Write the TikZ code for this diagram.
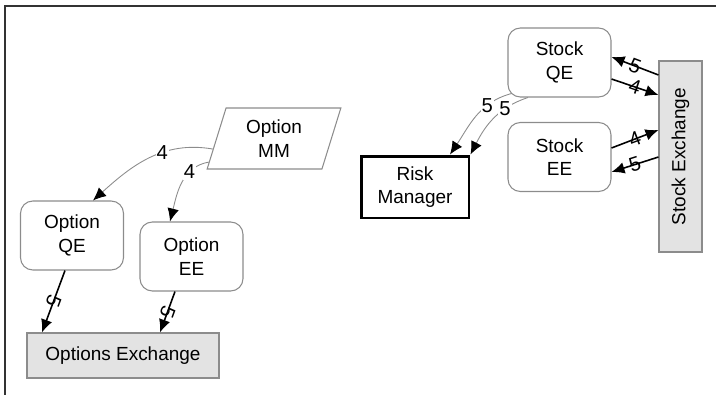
\documentclass[tikz,border=0pt]{standalone}
\usepackage{fontspec}
\setmainfont{Liberation Sans}
\usepackage{graphicx}
\usepackage{xcolor}
\usetikzlibrary{calc}
\usetikzlibrary{arrows.meta}
\usetikzlibrary{shapes.geometric}
\definecolor{edgegray}{HTML}{8C8C8C}
\definecolor{boxfill}{HTML}{E3E3E3}
\tikzset{
	txt/.style={font=\fontsize{10.8}{13.5}\selectfont,align=center,inner sep=0pt},
	rbox/.style={txt,draw=edgegray,line width=0.6pt,rounded corners=7pt,minimum width=2.06cm,minimum height=1.38cm},
	exch/.style={txt,draw=edgegray,fill=boxfill,line width=0.6pt},
	flow/.style={draw=edgegray,line width=0.5pt,-{Latex[color=black,length=7.4pt,width=6.6pt]}},
	link/.style={draw=black,line width=0.9pt,-{Latex[length=7.4pt,width=6.6pt]}},
	lbl/.style={font=\fontsize{11.5}{12}\selectfont,inner sep=0.6pt}
}
\begin{document}
\begin{tikzpicture}[x=0.02cm,y=0.02cm]
		\useasboundingbox (0,0) rectangle (716,-395);
		\draw[black!80,line width=0.8pt] (716,-6)--(5,-6)--(5,-395);
		\node[txt,draw=edgegray,line width=0.6pt,trapezium,trapezium left angle=73.6,trapezium right angle=106.4,trapezium stretches=true,minimum width=2.68cm,minimum height=1.22cm] (mm) at (274,-138.5) {Option\\MM};
		\node[rbox] (oqe) at (72,-235.5) {Option\\QE};
		\node[rbox] (oee) at (191.5,-256.5) {Option\\EE};
		\node[exch,minimum width=3.84cm,minimum height=0.9cm] (oex) at (123,-355.5) {Options Exchange};
		\node[rbox] (sqe) at (559.5,-62.5) {Stock\\QE};
		\node[rbox] (see) at (559.5,-157) {Stock\\EE};
		\node[txt,draw=black,line width=1.7pt,minimum width=2.16cm,minimum height=1.24cm] (rm) at (415,-187) {Risk\\Manager};
		\node[exch,minimum width=0.86cm,minimum height=3.82cm] (sex) at (680.5,-156.5) {\rotatebox{90}{Stock Exchange}};
		\draw[flow] ($(mm.bottom left corner)!0.33!(mm.top left corner)$) to[out=170,in=42] node[lbl,fill=white,pos=0.38]{4} (oqe.north -| 93,0);
		\draw[flow] ($(mm.bottom left corner)!0.12!(mm.top left corner)$) to[out=190,in=76] node[lbl,fill=white,pos=0.3]{4} (oee.north -| 170,0);
		\draw[link] (oqe.south -| 65,0) -- node[lbl,midway,sloped,allow upside down]{5} (oex.north -| 42,0);
		\draw[link] (oee.south -| 175,0) -- node[lbl,midway,sloped,allow upside down]{5} (oex.north -| 160,0);
		\draw[flow] ($(sqe.south west)+(4,4)$) to[out=195,in=56] node[lbl,fill=white,pos=0.3]{5} (rm.north -| 450,0);
		\draw[flow] (sqe.south -| 528,0) to[out=198,in=63] node[lbl,fill=white,pos=0.3]{5} (rm.north east);
		\draw[link] (sex.west |- 0,-75) -- node[lbl,midway,sloped]{5} (sqe.east |- 0,-57);
		\draw[link] (sqe.east |- 0,-79) -- node[lbl,midway,sloped]{4} (sex.west |- 0,-95);
		\draw[link] (see.east |- 0,-148) -- node[lbl,midway,sloped]{4} (sex.west |- 0,-130);
		\draw[link] (sex.west |- 0,-157) -- node[lbl,midway,sloped]{5} (see.east |- 0,-172);
	\end{tikzpicture}
\end{document}
